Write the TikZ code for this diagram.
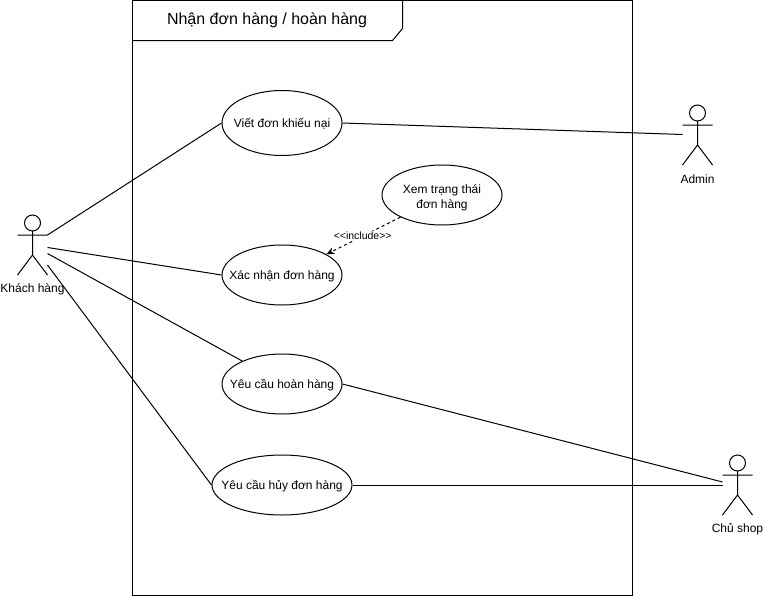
\documentclass[tikz,border=0pt]{standalone}
\usepackage{fontspec}
\setmainfont{Liberation Sans}
\usetikzlibrary{arrows.meta,shapes.geometric}
\tikzset{
  usecase/.style={draw=black,ellipse,fill=white,line width=1pt,inner sep=0pt,align=center,font=\fontsize{12}{15}\selectfont},
  head/.style={draw=black,circle,minimum size=16pt,inner sep=0pt,line width=1pt},
  stick/.style={draw=black,line width=1pt},
  conn/.style={draw=black,line width=1pt},
  lbl/.style={font=\fontsize{12}{14}\selectfont,inner sep=0pt},
  tag/.style={font=\fontsize{10.5}{12}\selectfont,inner sep=1pt,fill=white},
  title/.style={font=\fontsize{16}{19}\selectfont,inner sep=0pt}
}
\newcommand{\ctext}[1]{\raisebox{-4.5pt}[0pt][0pt]{\makebox[0pt][c]{#1}}}
\newcommand{\stickman}[4]{% name, x of centre, y of head centre, label
  \node[head] (#1) at (#2,#3) {};
  \coordinate (#1neck) at (#2,#3+8);
  \coordinate (#1hip) at (#2,#3+32);
  \coordinate (#1armL) at (#2-15,#3+12);
  \coordinate (#1armR) at (#2+15,#3+12);
  \coordinate (#1legL) at (#2-15,#3+52);
  \coordinate (#1legR) at (#2+15,#3+52);
  \draw[stick] (#1neck) -- (#1hip) (#1armL) -- (#1armR) (#1legL) -- (#1hip) -- (#1legR);
  \node[lbl] (#1label) at (#2,#3+66.5) {#4};
}
\begin{document}
\begin{tikzpicture}[x=1pt,y=-1pt]
\useasboundingbox (0,0) rectangle (763,597);
% frame
\draw[stick] (132.5,0.5) rectangle (632.5,595.5);
\draw[stick] (132.5,40.5) -- (392.5,40.5) -- (402.5,28.5) -- (402.5,0.5);
\node[title] (frametitle) at (267,20.5) {Nhận đơn hàng / hoàn hàng};
% use cases
\node[usecase,minimum width=120pt,minimum height=65pt] (viet) at (282,123) {\ctext{Viết đơn khiếu nại}};
\node[usecase,minimum width=120pt,minimum height=60pt] (xem) at (442,195) {};
\node[font=\fontsize{12}{15}\selectfont,align=center,inner sep=0pt] (xemtext) at (442,197.5) {Xem trạng thái\\đơn hàng};
\node[usecase,minimum width=120pt,minimum height=60pt] (xacnhan) at (282,275) {\ctext{Xác nhận đơn hàng}};
\node[usecase,minimum width=120pt,minimum height=60pt] (hoan) at (282,384) {\ctext{Yêu cầu hoàn hàng}};
\node[usecase,minimum width=140pt,minimum height=60pt] (huy) at (282,485) {\ctext{Yêu cầu hủy đơn hàng}};
% actors
\stickman{khach}{32.5}{223}{Khách hàng}
\stickman{admin}{697.5}{113}{Admin}
\stickman{chu}{737.5}{463}{Chủ shop}
% connector ends near actors
\coordinate (k1) at (47.5,235);
\coordinate (k2) at (47.5,247.5);
\coordinate (k3) at (47.5,253.5);
\coordinate (k4) at (47.5,265);
\coordinate (a1) at (682.5,134.5);
\coordinate (c1) at (722.5,482);
\coordinate (c2) at (722.5,485);
% connectors
\draw[conn] (k1) -- (viet.west);
\draw[conn] (k2) -- (xacnhan.west);
\draw[conn] (k3) -- (hoan.150);
\draw[conn] (k4) -- (huy.west);
\draw[conn] (viet.east) -- (a1);
\draw[conn] (hoan.east) -- (c1);
\draw[conn] (huy.east) -- (c2);
\draw[conn,dash pattern=on 3pt off 3pt,-{Stealth[length=8pt,width=7pt]}] (xem.208) -- node[tag,pos=0.51] (inc) {<{}<include>{}>} (xacnhan.25);
\end{tikzpicture}
\end{document}
